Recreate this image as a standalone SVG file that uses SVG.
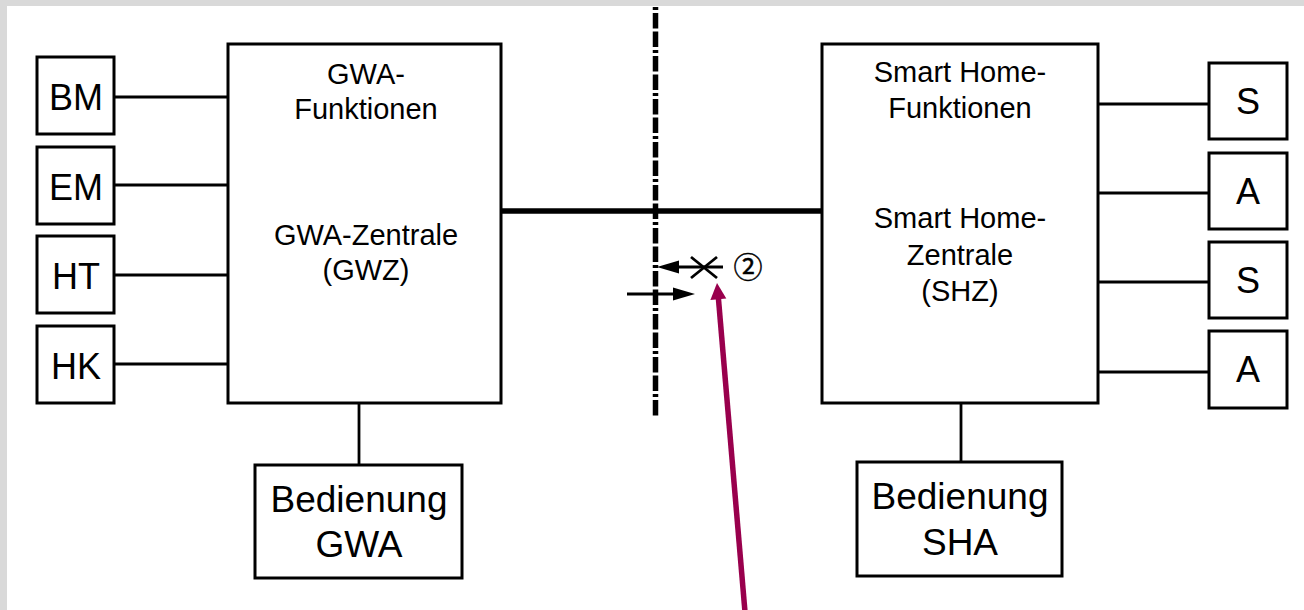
<svg xmlns="http://www.w3.org/2000/svg" width="1304" height="610" viewBox="0 0 1304 610">
<style>
.box{fill:#fff;stroke:#000;stroke-width:3}
.ln{stroke:#000;stroke-width:2.8;fill:none}
.t{font-family:"Liberation Sans",Arial,sans-serif;fill:#000;text-anchor:middle}
.s{font-size:36px}
.m{font-size:29px}
.b{font-size:37px}
</style>
<rect x="0" y="0" width="1304" height="610" fill="#d9d9d9"/>
<rect x="7" y="6" width="1297" height="604" fill="#fff"/>
<g id="connectors">
<line class="ln" x1="114" y1="97" x2="228" y2="97"/>
<line class="ln" x1="114" y1="185" x2="228" y2="185"/>
<line class="ln" x1="114" y1="275" x2="228" y2="275"/>
<line class="ln" x1="114" y1="364" x2="228" y2="364"/>
<line class="ln" x1="359" y1="403" x2="359" y2="465"/>
<line class="ln" x1="1098" y1="104" x2="1209" y2="104"/>
<line class="ln" x1="1098" y1="193" x2="1209" y2="193"/>
<line class="ln" x1="1098" y1="282" x2="1209" y2="282"/>
<line class="ln" x1="1098" y1="372" x2="1209" y2="372"/>
<line class="ln" x1="961" y1="403" x2="961" y2="462"/>
<line x1="501" y1="211" x2="822" y2="211" stroke="#000" stroke-width="5.5"/>
<line x1="655.5" y1="7" x2="655.5" y2="416" stroke="#000" stroke-width="5.5" stroke-dasharray="3 3 15.5 3 15.5 3"/>
<line class="ln" x1="678" y1="267" x2="723" y2="267"/>
<polygon points="657,267 679,260.5 679,273.5" fill="#000"/>
<line class="ln" x1="627" y1="294" x2="674" y2="294"/>
<polygon points="695,294 673,287.5 673,300.5" fill="#000"/>
<line class="ln" x1="691" y1="257" x2="717" y2="278"/>
<line class="ln" x1="717" y1="257" x2="691" y2="278"/>
<line x1="718.3" y1="297" x2="745" y2="612" stroke="#99004d" stroke-width="5.5"/>
<polygon points="717,283 726.3,298.5 710.4,299.9" fill="#99004d"/>
</g>
<text class="t" x="748" y="278" stroke="#000" stroke-width="0.5" style="font-family:'Noto Sans CJK JP','DejaVu Sans',sans-serif;font-size:29px">②</text>
<g id="BM"><rect class="box" x="37" y="57" width="77" height="77"/><text class="t s" x="76" y="110">BM</text></g>
<g id="EM"><rect class="box" x="37" y="147" width="77" height="77"/><text class="t s" x="76" y="200">EM</text></g>
<g id="HT"><rect class="box" x="37" y="236" width="77" height="77"/><text class="t s" x="76" y="289">HT</text></g>
<g id="HK"><rect class="box" x="37" y="326" width="77" height="77"/><text class="t s" x="76" y="379">HK</text></g>
<g id="GWZ"><rect class="box" x="228" y="44" width="273" height="359"/>
<text class="t m" x="366" y="84">GWA-</text><text class="t m" x="366" y="119">Funktionen</text>
<text class="t m" x="366" y="245">GWA-Zentrale</text><text class="t m" x="366" y="280">(GWZ)</text></g>
<g id="BedGWA"><rect class="box" x="255" y="465" width="207" height="113"/>
<text class="t b" x="359" y="512">Bedienung</text><text class="t b" x="359" y="557">GWA</text></g>
<g id="SHZ"><rect class="box" x="822" y="44" width="276" height="359"/>
<text class="t m" x="960" y="82">Smart Home-</text><text class="t m" x="960" y="118">Funktionen</text>
<text class="t m" x="960" y="228">Smart Home-</text><text class="t m" x="960" y="265">Zentrale</text><text class="t m" x="960" y="301">(SHZ)</text></g>
<g id="BedSHA"><rect class="box" x="857" y="462" width="205" height="114"/>
<text class="t b" x="960" y="509">Bedienung</text><text class="t b" x="960" y="555">SHA</text></g>
<g id="S1"><rect class="box" x="1209" y="63" width="78" height="76"/><text class="t s" x="1248" y="114">S</text></g>
<g id="A1"><rect class="box" x="1209" y="153" width="78" height="76"/><text class="t s" x="1248" y="204">A</text></g>
<g id="S2"><rect class="box" x="1209" y="242" width="78" height="76"/><text class="t s" x="1248" y="293">S</text></g>
<g id="A2"><rect class="box" x="1209" y="331" width="78" height="77"/><text class="t s" x="1248" y="382">A</text></g>
</svg>
